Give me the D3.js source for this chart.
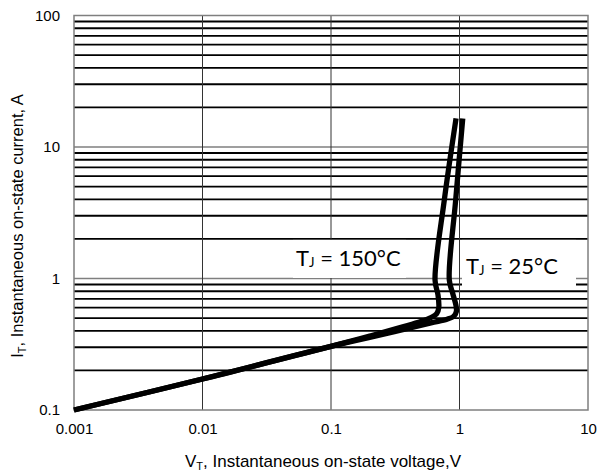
<!DOCTYPE html>
<html>
<head>
<meta charset="utf-8">
<script src="https://cdn.jsdelivr.net/npm/d3@7"></script>
<style>
  body { margin: 0; background: #fff; }
  text { font-family: "Liberation Sans", Arial, sans-serif; }
  .lbl { font-family: Lato, "Open Sans", sans-serif; }
</style>
</head>
<body>
<div id="chart"></div>
<script>
// on-state voltage (V) vs current (A)
const v150 = [0.001, 0.01, 0.1, 0.2, 0.35, 0.5, 0.6, 0.665, 0.69, 0.68, 0.645, 0.762, 0.94];
const i150 = [0.1, 0.172, 0.305, 0.365, 0.425, 0.47, 0.505, 0.54, 0.6, 0.75, 0.974, 3.96, 16.5];
const v25 = [0.001, 0.01, 0.1, 0.3, 0.6, 0.8, 0.9, 0.945, 0.94, 0.885, 0.833, 0.934, 1.06];
const i25 = [0.1, 0.172, 0.305, 0.39, 0.46, 0.49, 0.515, 0.56, 0.62, 0.772, 0.974, 3.96, 16.5];
const xTicks = [0.001, 0.01, 0.1, 1, 10];
const yTicks = [0.1, 1, 10, 100];
const seriesLabels = ["150°C", "25°C"];

const W = 598, H = 474;
const plot = { left: 74, right: 588, top: 15.5, bottom: 410 };

const svg = d3.select("#chart").append("svg")
    .attr("width", W)
    .attr("height", H);

const x = d3.scaleLog().domain([0.001, 10]).range([plot.left, plot.right]);
const y = d3.scaleLog().domain([0.1, 100]).range([plot.bottom, plot.top]);

const isDecade = d => Math.abs(Math.log10(d) - Math.round(Math.log10(d))) < 1e-6;

// horizontal grid: 2..9 per decade are heavy black, decades thin gray
const hVals = y.ticks().filter(d => d > 0.1 && d < 100);
svg.append("g").selectAll("line")
    .data(hVals)
    .join("line")
    .attr("x1", plot.left).attr("x2", plot.right)
    .attr("y1", d => y(d)).attr("y2", d => y(d))
    .attr("stroke", d => isDecade(d) ? "#7f7f7f" : "#000")
    .attr("stroke-width", d => isDecade(d) ? 1.3 : 1.9);

// vertical grid, decades only
svg.append("g").selectAll("line")
    .data(xTicks.filter(d => d > 0.001 && d < 10))
    .join("line")
    .attr("x1", d => x(d)).attr("x2", d => x(d))
    .attr("y1", plot.top).attr("y2", plot.bottom)
    .attr("stroke", "#333")
    .attr("stroke-width", 1);

// frame
svg.append("rect")
    .attr("x", plot.left).attr("y", plot.top)
    .attr("width", plot.right - plot.left)
    .attr("height", plot.bottom - plot.top)
    .attr("fill", "none")
    .attr("stroke", "#7f7f7f")
    .attr("stroke-width", 1.5);

// white boxes behind the temperature labels
svg.append("rect")
    .attr("x", 293).attr("y", y(2) + 1)
    .attr("width", 113).attr("height", y(1) - y(2) - 1.5)
    .attr("fill", "#fff");
svg.append("rect")
    .attr("x", 462).attr("y", y(2) + 1)
    .attr("width", 114).attr("height", y(0.86) - y(2) - 1)
    .attr("fill", "#fff");

// curves
const line = d3.line()
    .x(d => x(d[0]))
    .y(d => y(d[1]))
    .curve(d3.curveCatmullRom.alpha(0.5));

[[v150, i150], [v25, i25]].forEach(([vs, is]) => {
    svg.append("path")
        .datum(vs.map((v, k) => [v, is[k]]))
        .attr("d", line)
        .attr("fill", "none")
        .attr("stroke", "#000")
        .attr("stroke-width", 5.3)
        .attr("stroke-linejoin", "round");
});

// temperature labels
function tLabel(px, py, txt) {
    const t = svg.append("text")
        .attr("class", "lbl")
        .attr("x", px).attr("y", py)
        .attr("font-size", 22)
        .attr("fill", "#000");
    t.append("tspan").text("T");
    t.append("tspan").attr("font-size", 13).attr("dy", 1).text("J");
    t.append("tspan").attr("dy", -1).text(" = " + txt);
}
tLabel(296, 266, seriesLabels[0]);
tLabel(466, 274, seriesLabels[1]);

// axes
const xAxis = svg.append("g")
    .attr("transform", `translate(0,${plot.bottom})`)
    .call(d3.axisBottom(x).tickValues(xTicks).tickSize(0).tickPadding(13)
        .tickFormat(d => String(d)));
const yAxis = svg.append("g")
    .attr("transform", `translate(${plot.left},0)`)
    .call(d3.axisLeft(y).tickValues(yTicks).tickSize(0).tickPadding(14)
        .tickFormat(d => String(d)));
[xAxis, yAxis].forEach(g => {
    g.select(".domain").remove();
    g.selectAll("text")
        .attr("font-family", "'Liberation Sans', Arial, sans-serif")
        .attr("font-size", 15)
        .attr("fill", "#000");
});

// axis titles
const xt = svg.append("text")
    .attr("x", 323).attr("y", 467)
    .attr("text-anchor", "middle")
    .attr("font-size", 17);
xt.append("tspan").text("V");
xt.append("tspan").attr("font-size", 11).attr("dy", 2.5).text("T");
xt.append("tspan").attr("dy", -2.5).text(", Instantaneous on-state voltage,V");

const yt = svg.append("text")
    .attr("transform", "translate(23,226) rotate(-90)")
    .attr("text-anchor", "middle")
    .attr("font-size", 16.5);
yt.append("tspan").text("I");
yt.append("tspan").attr("font-size", 11).attr("dy", 3).text("T");
yt.append("tspan").attr("dy", -3).text(", Instantaneous on-state current, A");
</script>
</body>
</html>
